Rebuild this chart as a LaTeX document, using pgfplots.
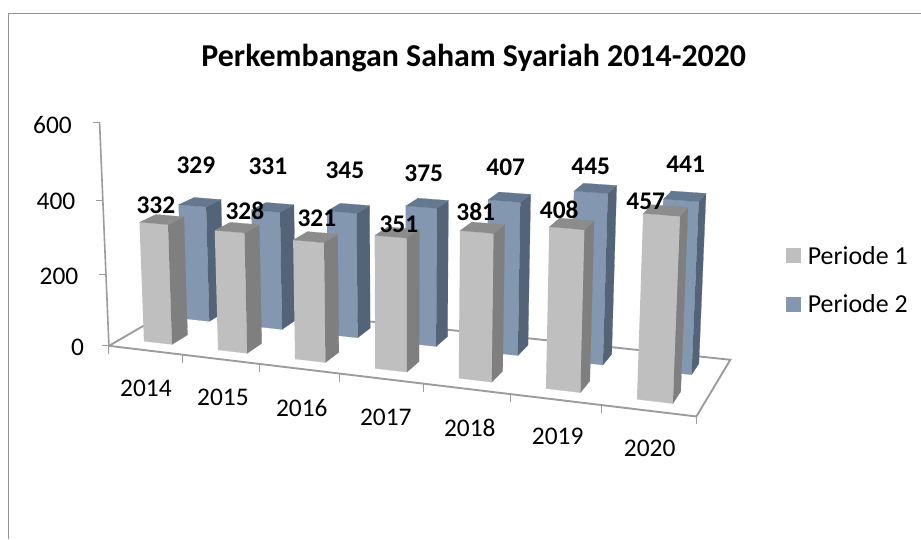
\documentclass[border=0pt]{standalone}
\usepackage{pgfplots}
\usepackage{pgfplotstable}
\pgfplotsset{compat=1.18}
\usepackage{fontspec}
\setmainfont{Carlito}
\definecolor{gfront}{HTML}{BFBFBF}
\definecolor{gside}{HTML}{7F7F7F}
\definecolor{gtop}{HTML}{8C8C8C}
\definecolor{bfront}{HTML}{8497B0}
\definecolor{bside}{HTML}{546478}
\definecolor{btop}{HTML}{64788F}
\definecolor{axln}{HTML}{9C9C9C}
% unit corners of the visible faces of a column
\pgfplotstableread{
a b c
0 0 0
1 0 0
1 0 1
0 0 1
}\faceFront
\pgfplotstableread{
a b c
1 0 0
1 1 0
1 1 1
1 0 1
}\faceSide
\pgfplotstableread{
a b c
0 0 1
1 0 1
1 1 1
0 1 1
}\faceTop
% #1 category position, #2 depth start, #3 depth end, #4 value, #5 colour prefix
\newcommand{\face}[6]{%
  \addplot[forget plot,fill=#5,draw=#5,line width=0.2pt]
    table[x expr={prx(#1+0.31+0.384*\thisrow{a},#2+(#3-#2)*\thisrow{b},#4*\thisrow{c})},
          y expr={pry(#1+0.31+0.384*\thisrow{a},#2+(#3-#2)*\thisrow{b},#4*\thisrow{c})}] {#6};
}
\newcommand{\colbar}[5]{%
  \face{#1}{#2}{#3}{#4}{#5front}{\faceFront}
  \face{#1}{#2}{#3}{#4}{#5side}{\faceSide}
  \face{#1}{#2}{#3}{#4}{#5top}{\faceTop}
}
\newcommand{\lab}{\fontsize{25.5}{25.5}\selectfont}
\begin{document}
\begin{tikzpicture}
\begin{axis}[
  scale only axis, width=921bp, height=539bp,
  xmin=0, xmax=921, ymin=0, ymax=539, y dir=reverse,
  axis lines=none, clip=false,
  declare function={
    prx(\x,\y,\z)=(109+70.371*\x+91.8*\y-0.0207*\z)/(1-0.0195*\x+0.0855*\y-0.000051*\z);
    pry(\x,\y,\z)=(346+1.971*\x-18.2*\y-0.3857*\z)/(1-0.0195*\x+0.0855*\y-0.00011*\z);
  },
  legend cell align=left,
  legend style={at={(axis cs:786,244)},anchor=north west,draw=none,fill=none,
    font=\fontsize{26}{26}\selectfont,row sep=25bp,inner sep=0pt,
    /tikz/every odd column/.append style={column sep=5bp}},
  legend image code/.code={\fill[#1,draw=none] (0bp,-7.5bp) rectangle (15bp,7.5bp);},
]
% page extent
\path (axis cs:0,0) rectangle (axis cs:921,539);
% chart frame
\addplot[forget plot,color=gray!85,line width=0.9bp] coordinates {(8.5,539) (8.5,13.5) (921,13.5)};
% floor
\addplot[forget plot,color=axln,line width=1.9bp] table[
  x expr={prx(\thisrow{a},\thisrow{b},0)},y expr={pry(\thisrow{a},\thisrow{b},0)}] {
a b
0 0
7 0
7 1
0 1
0 0
};
% value axis
\addplot[forget plot,color=axln,line width=1.6bp] table[
  x expr={prx(0,0,\thisrow{c})},y expr={pry(0,0,\thisrow{c})}] {
c
0
600
};
\pgfplotsinvokeforeach{0,200,400,600}{
  \addplot[forget plot,color=axln,line width=1bp] table[row sep=\\,
    x expr={prx(0,0,#1)+\thisrow{d}},y expr={pry(0,0,#1)}] {d\\ 0\\ -7\\};
}
\pgfplotsinvokeforeach{0,...,7}{
  \addplot[forget plot,color=axln,line width=1bp] table[row sep=\\,
    x expr={prx(#1,0,0)},y expr={pry(#1,0,0)+\thisrow{d}}] {d\\ 0\\ 8\\};
}
% Periode 2 (back row), then Periode 1 (front row)
\colbar{0}{0.66}{0.87}{329}{b}
\colbar{1}{0.66}{0.87}{331}{b}
\colbar{2}{0.66}{0.87}{345}{b}
\colbar{3}{0.66}{0.87}{375}{b}
\colbar{4}{0.66}{0.87}{407}{b}
\colbar{5}{0.66}{0.87}{445}{b}
\colbar{6}{0.66}{0.87}{441}{b}
\colbar{0}{0.155}{0.36}{332}{g}
\colbar{1}{0.155}{0.36}{328}{g}
\colbar{2}{0.155}{0.36}{321}{g}
\colbar{3}{0.155}{0.36}{351}{g}
\colbar{4}{0.155}{0.36}{381}{g}
\colbar{5}{0.155}{0.36}{408}{g}
\colbar{6}{0.155}{0.36}{457}{g}
% legend
\addlegendimage{fill=gfront}
\addlegendentry{Periode 1}
\addlegendimage{fill=bfront}
\addlegendentry{Periode 2}
% title, tick labels, data labels
\node[font=\fontsize{32}{32}\selectfont\bfseries] at (axis cs:474,58) {Perkembangan Saham Syariah 2014-2020};
\node[font=\lab] at (axis cs:52.5,125) {600};
\node[font=\lab] at (axis cs:56,201) {400};
\node[font=\lab] at (axis cs:59,276) {200};
\node[font=\lab] at (axis cs:77.5,348) {0};
\node[font=\lab] at (axis cs:146,389) {2014};
\node[font=\lab] at (axis cs:223,398) {2015};
\node[font=\lab] at (axis cs:302,408) {2016};
\node[font=\lab] at (axis cs:386,418) {2017};
\node[font=\lab] at (axis cs:470,428) {2018};
\node[font=\lab] at (axis cs:558,437) {2019};
\node[font=\lab] at (axis cs:650,449) {2020};
\node[font=\lab\bfseries] at (axis cs:196,165) {329};
\node[font=\lab\bfseries] at (axis cs:268,166) {331};
\node[font=\lab\bfseries] at (axis cs:345,170) {345};
\node[font=\lab\bfseries] at (axis cs:424,173) {375};
\node[font=\lab\bfseries] at (axis cs:506,167) {407};
\node[font=\lab\bfseries] at (axis cs:591,166) {445};
\node[font=\lab\bfseries] at (axis cs:686,164) {441};
\node[font=\lab\bfseries] at (axis cs:156,205) {332};
\node[font=\lab\bfseries] at (axis cs:245,211) {328};
\node[font=\lab\bfseries] at (axis cs:317,218) {321};
\node[font=\lab\bfseries] at (axis cs:399,224) {351};
\node[font=\lab\bfseries] at (axis cs:476,212) {381};
\node[font=\lab\bfseries] at (axis cs:559.5,210) {408};
\node[font=\lab\bfseries] at (axis cs:646,201) {457};
\end{axis}
\end{tikzpicture}
\end{document}
